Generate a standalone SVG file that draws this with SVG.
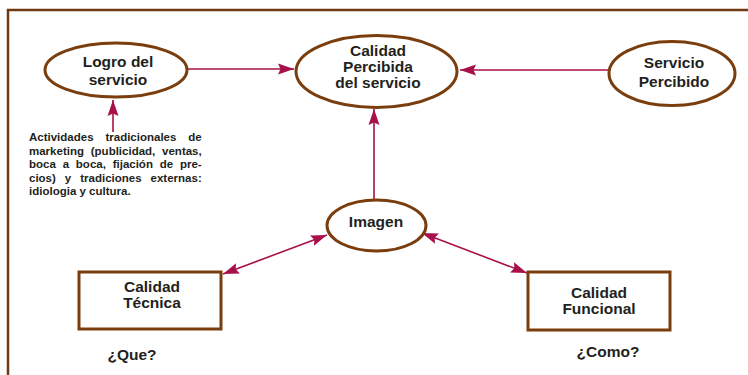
<svg xmlns="http://www.w3.org/2000/svg" width="748" height="375" viewBox="0 0 748 375">
  <style>
    .frame { fill: none; stroke: #6f3a10; stroke-width: 2.5; }
    .node { fill: #ffffff; stroke: #7a3e0e; stroke-width: 3; }
    .lbl { font-family: "Liberation Sans", Arial, sans-serif; font-weight: bold; font-size: 15.5px; fill: #231f20; text-anchor: middle; }
    .para { font-family: "Liberation Sans", Arial, sans-serif; font-weight: bold; font-size: 11.5px; fill: #231f20; }
    .link { fill: none; stroke: #a8104a; stroke-width: 1.6; }
  </style>
  <defs>
    <marker id="arrow" markerUnits="userSpaceOnUse" markerWidth="17" markerHeight="13" refX="16" refY="6" orient="auto-start-reverse">
      <path d="M0,0.5 L16,6 L0,11.5 L2.5,6 z" fill="#a8104a"/>
    </marker>
  </defs>

  <rect width="748" height="375" fill="#ffffff"/>

  <!-- page frame: top and left rules -->
  <path class="frame" d="M8,375 V10 H748"/>

  <!-- connectors -->
  <g id="connectors">
    <path class="link" d="M187,69 H294" marker-end="url(#arrow)"/>
    <path class="link" d="M609,70 H460" marker-end="url(#arrow)"/>
    <path class="link" d="M374,200 V109" marker-end="url(#arrow)"/>
    <path class="link" d="M113,132 V100" marker-end="url(#arrow)"/>
    <path class="link" d="M223,274 L327,235" marker-start="url(#arrow)" marker-end="url(#arrow)"/>
    <path class="link" d="M422,233 L527,273" marker-start="url(#arrow)" marker-end="url(#arrow)"/>
  </g>

  <g id="logro">
    <ellipse class="node" cx="116" cy="70" rx="71" ry="27"/>
    <text class="lbl" x="118" y="67">Logro del</text>
    <text class="lbl" x="118" y="85">servicio</text>
  </g>

  <g id="calidad-percibida">
    <ellipse class="node" cx="376.5" cy="71.5" rx="80.5" ry="36"/>
    <text class="lbl" x="378" y="56">Calidad</text>
    <text class="lbl" x="378" y="72">Percibida</text>
    <text class="lbl" x="378" y="88">del servicio</text>
  </g>

  <g id="servicio-percibido">
    <ellipse class="node" cx="672" cy="73.5" rx="63" ry="32"/>
    <text class="lbl" x="674" y="68">Servicio</text>
    <text class="lbl" x="674" y="87">Percibido</text>
  </g>

  <g id="imagen">
    <ellipse class="node" cx="376.5" cy="225.5" rx="49.5" ry="25.5"/>
    <text class="lbl" x="376" y="227">Imagen</text>
  </g>

  <g id="calidad-tecnica">
    <rect class="node" x="79" y="272" width="142" height="57"/>
    <text class="lbl" x="152" y="292">Calidad</text>
    <text class="lbl" x="152" y="308">Técnica</text>
    <text class="lbl" x="132" y="360">¿Que?</text>
  </g>

  <g id="calidad-funcional">
    <rect class="node" x="528" y="272" width="142" height="58"/>
    <text class="lbl" x="599" y="298">Calidad</text>
    <text class="lbl" x="599" y="314">Funcional</text>
    <text class="lbl" x="608" y="357">¿Como?</text>
  </g>

  <g id="actividades">
    <text class="para" x="29" y="141" word-spacing="8.7">Actividades tradicionales de</text>
    <text class="para" x="29" y="154.5" word-spacing="3.6">marketing (publicidad, ventas,</text>
    <text class="para" x="29" y="168" word-spacing="3.6">boca a boca, fijación de pre-</text>
    <text class="para" x="29" y="181.5" word-spacing="5.8">cios) y tradiciones externas:</text>
    <text class="para" x="29" y="195">idiologia y cultura.</text>
  </g>
</svg>
